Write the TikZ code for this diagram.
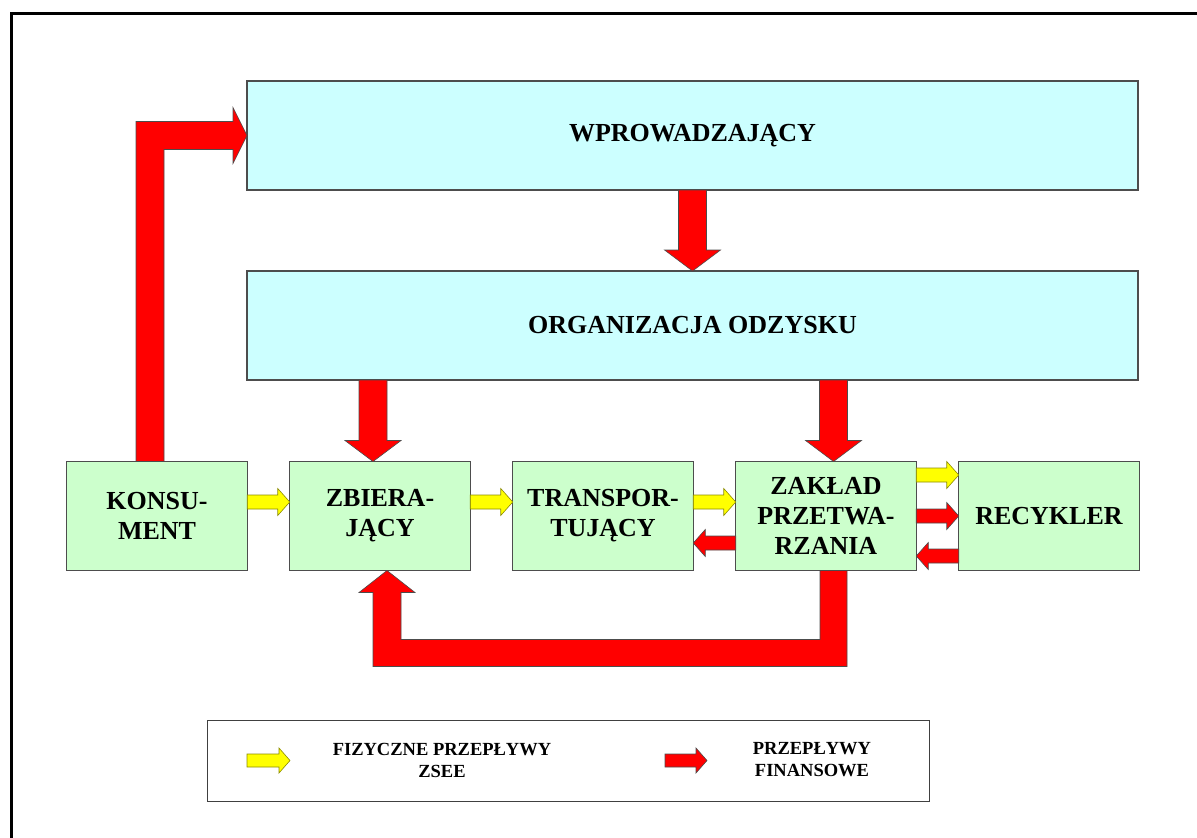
\documentclass[tikz,border=0pt]{standalone}
\usepackage{fontspec}
\setmainfont{Liberation Serif}
\usetikzlibrary{calc,positioning}
\definecolor{cyan-bg}{HTML}{CCFFFF}
\definecolor{green-bg}{HTML}{CCFFCC}
\definecolor{flow-red}{HTML}{FF0000}
\definecolor{flow-yellow}{HTML}{FFFF00}
\definecolor{edge-grey}{HTML}{4D4D4D}
\definecolor{edge-olive}{HTML}{8C8C00}

\tikzset{
  wide/.style={draw=edge-grey, line width=1.2pt, fill=cyan-bg, outer sep=0pt,
    minimum width=891pt, minimum height=109pt},
  unit/.style={draw=edge-grey, line width=1.2pt, fill=green-bg, outer sep=0pt,
    minimum width=180.5pt, minimum height=109pt, align=center},
  money/.style={fill=flow-red, draw=black!70, line width=0.6pt},
  goods/.style={fill=flow-yellow, draw=edge-olive, line width=0.6pt},
}

% block arrow: style, from, to, half shaft, half head, head length
\newcommand{\flowarrow}[6]{%
  \coordinate (fl-b) at ($(#3)!#6!(#2)$);
  \draw[#1] ($(#2)!#4!90:(#3)$) -- ($(fl-b)!#4!-90:(#2)$)
    -- ($(fl-b)!#5!-90:(#2)$) -- (#3) -- ($(fl-b)!#5!90:(#2)$)
    -- ($(fl-b)!#4!90:(#2)$) -- ($(#2)!#4!-90:(#3)$) -- cycle;}
% small horizontal arrow between two side anchors, shifted by dy
\newcommand{\sideflow}[4]{%
  \coordinate (sf-a) at ($(#2)+(0,#4)$);
  \coordinate (sf-b) at ($(#3)+(0,#4)$);
  \flowarrow{#1}{sf-a}{sf-b}{7pt}{13.5pt}{12pt}}

\begin{document}
\begin{tikzpicture}[x=1pt, y=-1pt,
    every node/.style={font=\bfseries\fontsize{26}{30}\selectfont}]
  \useasboundingbox (0,0) rectangle (1197,838);
  \draw[line width=3pt] (11.5,838) -- (11.5,13.5) -- (1197,13.5);

  \node[wide] (wpro) at (692.5,135.5) {WPROWADZAJĄCY};
  \node[wide] (org) at (692.5,325.5) {ORGANIZACJA ODZYSKU};
  \node[unit] (kons) at (157,516) {KONSU-\\MENT};
  \node[unit, right=42.5pt of kons] (zbier) {ZBIERA-\\JĄCY};
  \node[unit, right=42.5pt of zbier] (trans) {TRANSPOR-\\TUJĄCY};
  \node[unit, right=42.5pt of trans] (zakl) {ZAKŁAD\\PRZETWA-\\RZANIA};
  \node[unit, right=42.5pt of zakl] (recy) {RECYKLER};

  % financial flows
  \flowarrow{money}{wpro.south}{org.north}{14pt}{28pt}{21pt}
  \coordinate (zbier-in) at ($(zbier.north)+(-7,0)$);
  \coordinate (org-zb) at (org.south -| zbier-in);
  \flowarrow{money}{org-zb}{zbier-in}{14pt}{28pt}{21pt}
  \coordinate (zakl-in) at ($(zakl.north)+(7.5,0)$);
  \coordinate (org-zk) at (org.south -| zakl-in);
  \flowarrow{money}{org-zk}{zakl-in}{14pt}{28pt}{21pt}

  \coordinate (kons-up) at ($(kons.north)+(-7,0)$);
  \draw[money] ($(kons-up)+(-14,0)$) |- ($(wpro.west)+(-14,-14)$) -- ++(0,-14)
    -- (wpro.west) -- ++(-14,28) -- ++(0,-14) -| ($(kons-up)+(14,0)$) -- cycle;

  \coordinate (zakl-down) at ($(zakl.south)+(7.5,0)$);
  \coordinate (zbier-up) at ($(zbier.south)+(7,0)$);
  \draw[money] ($(zakl-down)+(-13.5,0)$) -- ++(0,69) -| ($(zbier-up)+(14,22)$)
    -- ++(14,0) -- (zbier-up) -- ++(-28,22) -- ++(14,0)
    |- ($(zakl-down)+(13.5,96)$) -- ($(zakl-down)+(13.5,0)$) -- cycle;

  % flows along the row
  \sideflow{goods}{kons.east}{zbier.west}{-14}
  \sideflow{goods}{zbier.east}{trans.west}{-14}
  \sideflow{goods}{trans.east}{zakl.west}{-14}
  \sideflow{money}{zakl.west}{trans.east}{27}
  \sideflow{goods}{zakl.east}{recy.west}{-41}
  \sideflow{money}{zakl.east}{recy.west}{0}
  \sideflow{money}{recy.west}{zakl.east}{40}

  % legend
  \node[draw=black!75, line width=1pt, minimum width=722pt, minimum height=81pt]
    (legend) at (568,760.5) {};
  \coordinate (lg-g0) at (247,760.5);
  \coordinate (lg-g1) at (290,760.5);
  \flowarrow{goods}{lg-g0}{lg-g1}{6.5pt}{12.5pt}{11pt}
  \coordinate (lg-m0) at (665,760.5);
  \coordinate (lg-m1) at (707,760.5);
  \flowarrow{money}{lg-m0}{lg-m1}{6.5pt}{12.5pt}{11pt}
  \node[align=center, font=\bfseries\fontsize{18.5}{22}\selectfont] (lg-goods)
    at (442,760) {FIZYCZNE PRZEPŁYWY\\ZSEE};
  \node[align=center, font=\bfseries\fontsize{18.5}{22}\selectfont] (lg-money)
    at (812,760) {PRZEPŁYWY\\FINANSOWE};
\end{tikzpicture}
\end{document}
